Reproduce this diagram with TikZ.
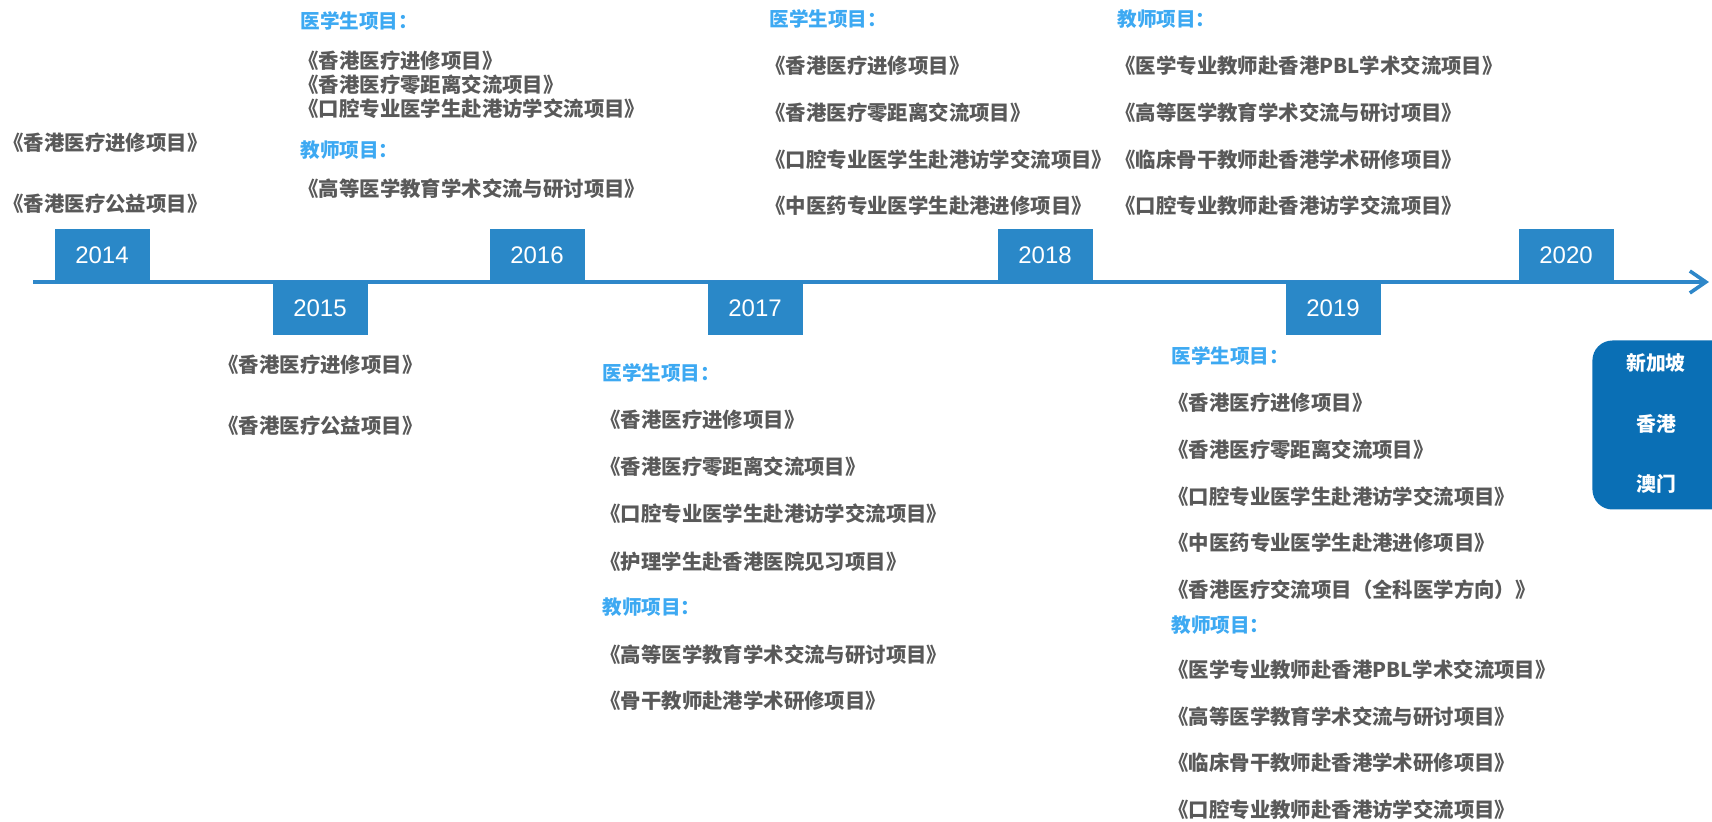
\documentclass[tikz,border=0pt]{standalone}
\usepackage{fontspec}
\setmainfont{Liberation Sans}
\newfontfamily\cjk{Noto Sans CJK SC}
\usetikzlibrary{arrows.meta}

\definecolor{lineblue}{HTML}{2E87C9}
\definecolor{boxblue}{HTML}{2A88C8}
\definecolor{headblue}{HTML}{3DA9F2}
\definecolor{textgray}{HTML}{595959}
\definecolor{tagblue}{HTML}{0A6FB5}

\tikzset{
  yearbox/.style={fill=boxblue, text=white, minimum width=47.5pt, minimum height=27pt, inner sep=0pt, font=\fontsize{12}{14}\selectfont},
  item/.style={anchor=west, inner sep=0pt, text=textgray, font=\cjk\bfseries\fontsize{10.2}{12}\selectfont},
  head/.style={anchor=west, inner sep=0pt, text=headblue, font=\cjk\bfseries\fontsize{9.8}{12}\selectfont},
  tagbox/.style={fill=tagblue, rounded corners=10pt, minimum width=72pt, minimum height=84.5pt, inner sep=0pt},
  place/.style={text=white, inner sep=0pt, font=\cjk\bfseries\fontsize{9.9}{12}\selectfont}
}

\begin{document}
\begin{tikzpicture}[x=0.5pt, y=-0.5pt]
\useasboundingbox (0,0) rectangle (1712,822);

% time axis
\coordinate (t0) at (33,282);
\coordinate (t1) at (1709,282);
\draw[lineblue, line width=2pt, -{Straight Barb[length=8pt,width=11pt,line width=1.8pt]}] (t0) -- (t1);

\foreach \yr/\x in {2014/102,2016/537,2018/1045,2020/1566}
    \node[yearbox, anchor=south] (y\yr) at (\x,283) {\yr};
\foreach \yr/\x in {2015/320,2017/755,2019/1333}
    \node[yearbox, anchor=north] (y\yr) at (\x,281) {\yr};

% destinations
\node[tagbox, anchor=west] (tag) at (1592,425) {};
\node[place] (sg) at (1656,363) {新加坡};
\node[place] (hk) at (1656,424) {香港};
\node[place] (mo) at (1656,484) {澳门};

% 2014
\foreach \t [count=\i] in {《香港医疗进修项目》,《香港医疗公益项目》}
    \node[item] (a14-\i) at (3,82+61*\i) {\t};

% 2015
\foreach \t [count=\i] in {《香港医疗进修项目》,《香港医疗公益项目》}
    \node[item] (a15-\i) at (218,304+61*\i) {\t};

% 2016
\node[head] (h16s) at (300,21) {医学生项目：};
\foreach \t [count=\i] in {《香港医疗进修项目》,《香港医疗零距离交流项目》,《口腔专业医学生赴港访学交流项目》}
    \node[item] (a16-\i) at (298,37+24*\i) {\t};
\node[head] (h16t) at (300,150) {教师项目：};
\node[item] (b16-1) at (298,189) {《高等医学教育学术交流与研讨项目》};

% 2017
\node[head] (h17s) at (602,373) {医学生项目：};
\foreach \t [count=\i] in {《香港医疗进修项目》,《香港医疗零距离交流项目》,《口腔专业医学生赴港访学交流项目》,《护理学生赴香港医院见习项目》}
    \node[item] (a17-\i) at (600,372+47.3*\i) {\t};
\node[head] (h17t) at (602,607) {教师项目：};
\foreach \t [count=\i] in {《高等医学教育学术交流与研讨项目》,《骨干教师赴港学术研修项目》}
    \node[item] (b17-\i) at (600,609+46*\i) {\t};

% 2018
\node[head] (h18s) at (769,19) {医学生项目：};
\foreach \t [count=\i] in {《香港医疗进修项目》,《香港医疗零距离交流项目》,《口腔专业医学生赴港访学交流项目》,《中医药专业医学生赴港进修项目》}
    \node[item] (a18-\i) at (765,19.3+46.7*\i) {\t};
\node[head] (h18t) at (1117,19) {教师项目：};
\foreach \t [count=\i] in {《医学专业教师赴香港PBL学术交流项目》,《高等医学教育学术交流与研讨项目》,《临床骨干教师赴香港学术研修项目》,《口腔专业教师赴香港访学交流项目》}
    \node[item] (b18-\i) at (1115,19.3+46.7*\i) {\t};

% 2019
\node[head] (h19s) at (1171,356) {医学生项目：};
\foreach \t [count=\i] in {《香港医疗进修项目》,《香港医疗零距离交流项目》,《口腔专业医学生赴港访学交流项目》,《中医药专业医学生赴港进修项目》,《香港医疗交流项目（全科医学方向）》}
    \node[item] (a19-\i) at (1168,356+46.75*\i) {\t};
\node[head] (h19t) at (1171,625) {教师项目：};
\foreach \t [count=\i] in {《医学专业教师赴香港PBL学术交流项目》,《高等医学教育学术交流与研讨项目》,《临床骨干教师赴香港学术研修项目》,《口腔专业教师赴香港访学交流项目》}
    \node[item] (b19-\i) at (1168,623+46.7*\i) {\t};

\end{tikzpicture}
\end{document}
